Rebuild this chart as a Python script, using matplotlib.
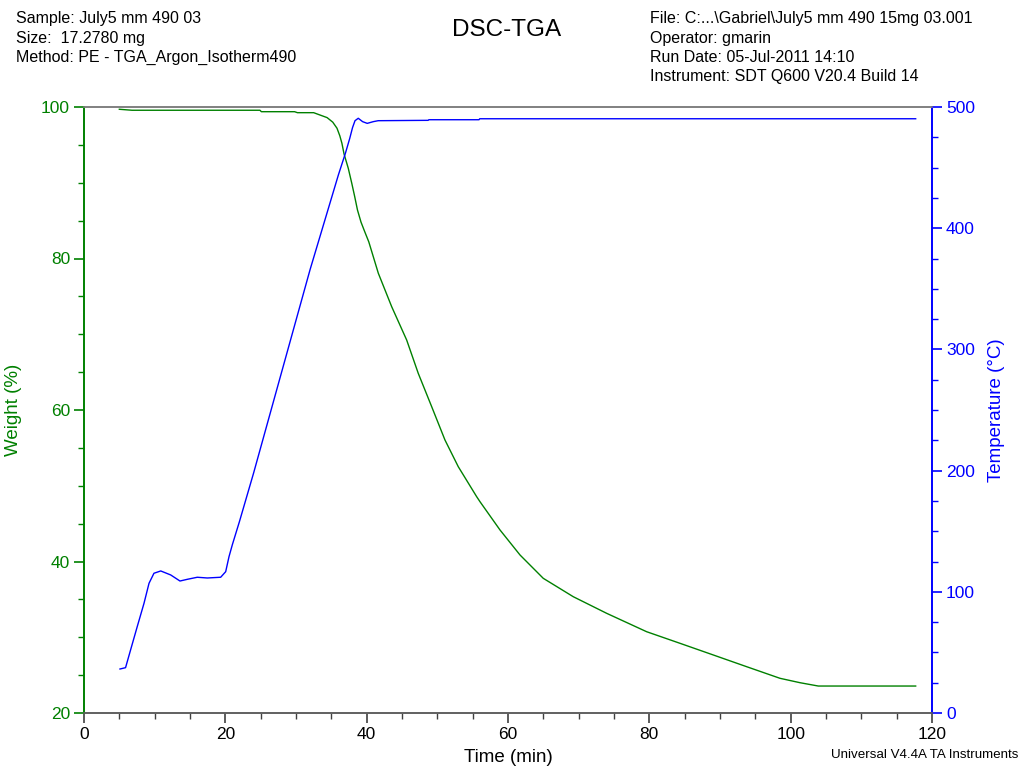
import matplotlib
matplotlib.use("Agg")
import matplotlib.pyplot as plt
from matplotlib.ticker import MultipleLocator

plt.rcParams['font.family'] = ['Liberation Sans', 'DejaVu Sans']

# Weight (%) vs time (min)
weight_time = [5.0, 6.8, 24.9, 25.1, 29.8, 30.2, 32.5, 33.4, 34.4, 35.2, 35.8, 36.2,
               36.5, 36.8, 37.4, 37.9, 38.3, 38.7, 39.2, 39.7, 40.3, 41.65, 43.54, 45.66,
               47.30, 49.20, 51.08, 52.96, 55.57, 56.04, 58.87, 61.70, 64.99, 69.24,
               73.96, 79.62, 84.34, 89.05, 93.78, 98.49, 101.32, 103.91, 117.69]
weight_pct = [99.70, 99.57, 99.57, 99.38, 99.38, 99.25, 99.25, 98.94, 98.6, 98.0, 97.2, 96.2,
              95.2, 93.8, 91.9, 89.9, 88.2, 86.4, 84.8, 83.6, 82.2, 78.05, 73.64, 69.24,
              64.84, 60.44, 56.04, 52.52, 48.55, 47.89, 44.16, 40.86, 37.78, 35.35,
              33.16, 30.73, 29.20, 27.66, 26.11, 24.58, 24.0, 23.56, 23.56]

# Temperature (°C) vs time (min)
temp_time = [5.09, 5.88, 6.59, 7.53, 8.49, 9.2, 9.9, 10.86, 12.27, 13.58, 14.62, 16.03,
             17.45, 19.34, 20.05, 20.52, 21.0, 22.0, 24.0, 26.0, 28.0, 30.0, 32.0, 34.0,
             36.0, 37.0, 37.6, 38.0, 38.35, 38.81, 39.43, 40.08, 40.93, 41.63, 48.7, 48.8,
             55.9, 56.0, 117.69]
temp_c = [36.3, 37.4, 52.0, 71.2, 90.5, 107.0, 115.3, 117.2, 113.9, 108.9, 110.3, 112.0,
          111.4, 112.0, 116.6, 129.0, 139.0, 158.0, 198.0, 240.0, 282.0, 324.0, 366.0, 405.0,
          444.0, 462.0, 474.0, 483.0, 488.7, 490.7, 487.9, 486.5, 487.9, 488.7, 489.0, 489.5,
          489.5, 490.3, 490.3]

GREEN = '#008000'
BLUE = '#0000FF'

fig = plt.figure(figsize=(10.21, 7.70), dpi=100)
ax = fig.add_axes([84/1021, 1-713/770, (932-84)/1021, (713-107)/770])
ax2 = ax.twinx()

ax.plot(weight_time, weight_pct, color=GREEN, lw=1.0)
ax2.plot(temp_time, temp_c, color=BLUE, lw=1.0)

ax.set_xlim(0, 120)
ax.set_ylim(20, 100)
ax2.set_ylim(0, 500)

ax.xaxis.set_major_locator(MultipleLocator(20))
ax.xaxis.set_minor_locator(MultipleLocator(5))
ax.yaxis.set_major_locator(MultipleLocator(20))
ax.yaxis.set_minor_locator(MultipleLocator(5))
ax2.yaxis.set_major_locator(MultipleLocator(100))
ax2.yaxis.set_minor_locator(MultipleLocator(25))

for a in (ax, ax2):
    a.spines['top'].set_color('#808080')
    a.spines['bottom'].set_color('#606060')
    a.spines['left'].set_color(GREEN)
    a.spines['right'].set_color(BLUE)
    for s in a.spines.values():
        s.set_linewidth(1.2)

ax.tick_params(axis='x', which='major', length=7, width=1.2, color='#404040',
               labelsize=12.5, labelcolor='black', pad=3)
ax.tick_params(axis='x', which='minor', length=4, width=1.0, color='#404040')
ax.tick_params(axis='y', which='major', length=7, width=1.2, color=GREEN,
               labelsize=12.5, labelcolor=GREEN, pad=3)
ax.tick_params(axis='y', which='minor', length=4, width=1.0, color=GREEN)
ax2.tick_params(axis='y', which='major', length=7, width=1.2, color=BLUE,
                labelsize=12.5, labelcolor=BLUE, pad=3)
ax2.tick_params(axis='y', which='minor', length=4, width=1.0, color=BLUE)

ax.set_xlabel('Time (min)', fontsize=13.5, va='center', ha='center')
ax.set_ylabel('Weight (%)', fontsize=13.5, color=GREEN, va='center', ha='center')
ax2.set_ylabel('Temperature (°C)', fontsize=13.5, color=BLUE, va='center', ha='center')
ax.xaxis.set_label_coords((508-84)/848, (713-758)/606)
ax.yaxis.set_label_coords((14-84)/848, (713-410)/606)
ax2.yaxis.set_label_coords((997-84)/848, (713-410)/606)

HS = 11.5
fig.text(16/1021, 1-18/770, 'Sample: July5 mm 490 03', fontsize=HS, va='center', ha='left')
fig.text(16/1021, 1-38/770, 'Size:  17.2780 mg', fontsize=HS, va='center', ha='left')
fig.text(16/1021, 1-57/770, 'Method: PE - TGA_Argon_Isotherm490', fontsize=HS, va='center', ha='left')
fig.text(507/1021, 1-30/770, 'DSC-TGA', fontsize=17.5, va='center', ha='center')
fig.text(650/1021, 1-18/770, 'File: C:...\\Gabriel\\July5 mm 490 15mg 03.001', fontsize=HS, va='center', ha='left')
fig.text(650/1021, 1-38/770, 'Operator: gmarin', fontsize=HS, va='center', ha='left')
fig.text(650/1021, 1-57/770, 'Run Date: 05-Jul-2011 14:10', fontsize=HS, va='center', ha='left')
fig.text(650/1021, 1-76/770, 'Instrument: SDT Q600 V20.4 Build 14', fontsize=HS, va='center', ha='left')
fig.text(1018/1021, 1-755/770, 'Universal V4.4A TA Instruments', fontsize=9.6, va='center', ha='right')

fig.savefig('out.png', dpi=100)
